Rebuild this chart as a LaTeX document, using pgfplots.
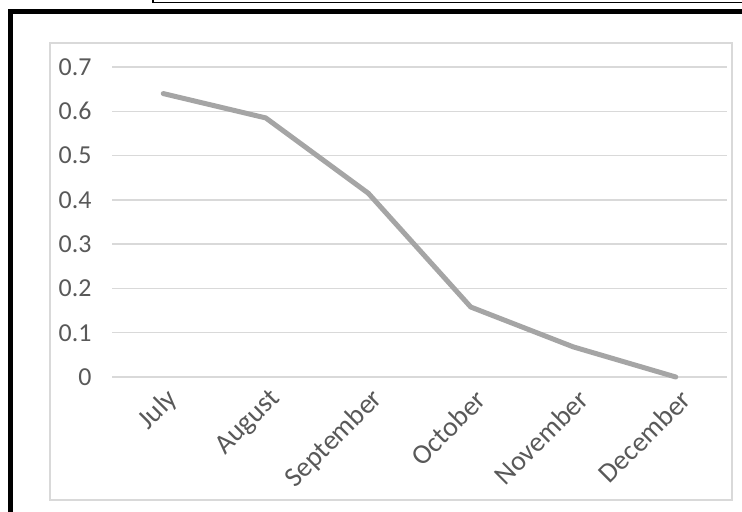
\documentclass[border=0pt]{standalone}
\usepackage{pgfplots}
\pgfplotsset{compat=1.18}
\usepackage{fontspec}
\setmainfont{Carlito}
\definecolor{txtgray}{HTML}{595959}
\definecolor{gridgray}{HTML}{D9D9D9}
\definecolor{linegray}{HTML}{A5A5A5}
\begin{document}
\begin{tikzpicture}[x=1bp,y=1bp]
\useasboundingbox[fill=white] (0,0) rectangle (742,512);
% chart area border
\draw[line width=1.5bp, color=gridgray] (50,12) rectangle (732,469);
% page frame lines
\draw[line width=5bp, black] (10,0) -- (10,500) -- (742,500);
\draw[line width=1.8bp, black] (153,512) -- (153,509.5) -- (742,509.5);
\begin{axis}[
  scale only axis,
  width=615bp, height=310bp,
  at={(112bp,135bp)}, anchor=south west,
  xmin=-0.5, xmax=5.5, ymin=0, ymax=0.7,
  axis line style={draw=none},
  major tick length=0pt,
  ytick={0,0.1,...,0.7},
  yticklabel style={/pgf/number format/fixed, /pgf/number format/precision=1, color=txtgray, font=\fontsize{26}{28}\selectfont, xshift=-17bp},
  /pgf/number format/assume math mode=true,
  xtick=data,
  xticklabels={July,August,September,October,November,December},
  xticklabel style={rotate=45, anchor=east, color=txtgray, font=\fontsize{28}{30}\selectfont, yshift=-20bp, xshift=-2bp},
  ymajorgrids, grid style={line width=1.5bp, color=gridgray},
  clip=false,
]
\addplot[line width=5bp, color=linegray, line join=round, line cap=round] coordinates {
  (0,0.64) (1,0.585) (2,0.415) (3,0.158) (4,0.068) (5,0.0)
};
\end{axis}
\end{tikzpicture}
\end{document}
